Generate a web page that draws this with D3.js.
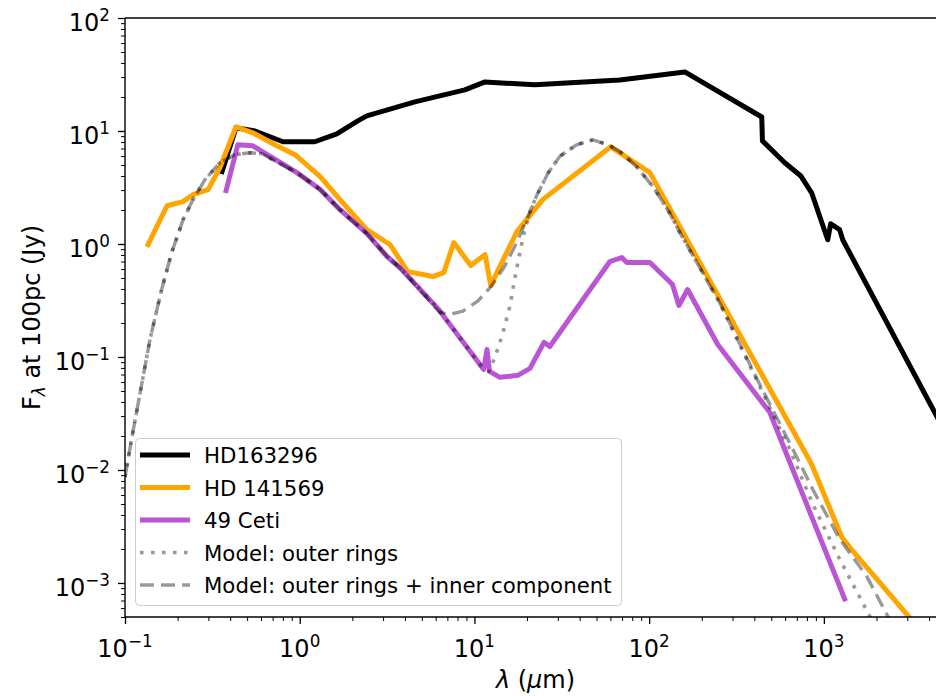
<!DOCTYPE html>
<html><head><meta charset="utf-8">
<script src="https://cdn.jsdelivr.net/npm/d3@7"></script>
<style>
body{margin:0;background:#fff}
svg{display:block}
text{font-family:"DejaVu Sans",sans-serif;fill:#000}
</style>
</head><body>
<svg id="c" width="936" height="696"></svg>
<script>
// ---------------- data (wavelength in micron, flux in Jy) ----------------
const hd163296_wl   = [0.359, 0.432, 0.555, 0.802, 1.22, 1.63, 2.15, 2.42, 4.56, 8.81, 11.5, 22.2, 67.9, 160, 441, 445, 597, 736, 851, 1052, 1094, 1230, 1282, 4365, 5000];
const hd163296_flux = [4.37, 10.7, 10.0, 8.03, 8.03, 9.44, 12.3, 13.6, 18.1, 23.1, 27.2, 25.6, 28.3, 33.3, 13.3, 8.18, 5.24, 4.02, 2.84, 1.09, 1.51, 1.34, 1.09, 0.0311, 0.021];

const hd141569_wl   = [0.1355, 0.174, 0.215, 0.245, 0.299, 0.349, 0.432, 0.539, 0.721, 0.94, 1.31, 1.70, 2.42, 3.28, 4.16, 5.78, 6.68, 7.62, 9.53, 11.5, 12.4, 17.5, 24.6, 60.3, 101, 851, 1265, 1462, 2979, 3532];
const hd141569_flux = [0.989, 2.18, 2.37, 2.73, 3.03, 4.73, 10.9, 9.64, 7.55, 6.17, 3.94, 2.47, 1.34, 0.99, 0.570, 0.515, 0.559, 1.03, 0.644, 0.805, 0.430, 1.29, 2.47, 7.24, 4.28, 0.01125, 2.55e-3, 1.92e-3, 5.3e-4, 3.93e-4];

const ceti49_wl   = [0.379, 0.442, 0.539, 0.964, 1.31, 1.70, 2.42, 3.16, 3.74, 6.18, 11.3, 11.8, 12.2, 14.0, 17.7, 20.8, 25.0, 27.0, 59.6, 69.7, 74.5, 101, 136, 148, 166, 247, 490, 1315];
const ceti49_flux = [2.97, 7.55, 7.40, 4.28, 3.03, 2.01, 1.24, 0.775, 0.619, 0.268, 0.0776, 0.1167, 0.0746, 0.0661, 0.0688, 0.0793, 0.1346, 0.124, 0.70, 0.759, 0.685, 0.685, 0.438, 0.286, 0.395, 0.129, 0.0324, 7.23e-4];

const modelOuter_wl   = [0.1, 0.109, 0.139, 0.162, 0.185, 0.215, 0.245, 0.287, 0.349, 0.425, 0.519, 0.608, 0.964, 1.31, 1.70, 2.42, 3.16, 3.74, 6.18, 11.3, 12.1, 13.1, 14.5, 16.0, 17.0, 18.2, 19.2, 20.8, 22.6, 26.4, 30.8, 38.4, 47.7, 58.2, 67.9, 84.5, 105, 131, 150, 253, 429, 637, 863, 1230, 1829, 2083];
const modelOuter_flux = [0.00863, 0.0187, 0.143, 0.395, 0.84, 1.64, 2.47, 3.71, 5.24, 6.17, 6.42, 6.29, 4.28, 3.03, 2.01, 1.24, 0.775, 0.619, 0.268, 0.0776, 0.0746, 0.099, 0.161, 0.286, 0.494, 0.84, 1.24, 1.93, 2.64, 4.25, 5.96, 7.55, 8.36, 7.55, 6.59, 4.85, 3.24, 1.88, 1.26, 0.303, 0.0550, 0.0153, 4.99e-3, 1.63e-3, 5.1e-4, 3.2e-4];

const modelFull_wl   = [0.1, 0.109, 0.139, 0.162, 0.185, 0.215, 0.245, 0.287, 0.349, 0.425, 0.519, 0.608, 0.964, 1.31, 1.70, 2.42, 3.16, 3.74, 6.34, 7.23, 8.59, 10.45, 12.5, 14.9, 17.4, 19.9, 22.6, 26.4, 30.8, 38.4, 47.7, 58.2, 67.9, 84.5, 105, 131, 150, 253, 429, 664, 863, 1230, 1757, 2317, 2716];
const modelFull_flux = [0.00863, 0.0187, 0.143, 0.395, 0.84, 1.64, 2.47, 3.71, 5.24, 6.17, 6.42, 6.29, 4.28, 3.03, 2.01, 1.24, 0.775, 0.619, 0.248, 0.238, 0.255, 0.312, 0.423, 0.635, 1.02, 1.64, 2.64, 4.25, 5.96, 7.55, 8.36, 7.55, 6.59, 4.85, 3.24, 1.88, 1.26, 0.303, 0.0573, 0.0153, 6.76e-3, 2.45e-3, 1.15e-3, 5.1e-4, 3.2e-4];

const xMajorExp = [-1, 0, 1, 2, 3];
const yMajorExp = [-3, -2, -1, 0, 1, 2];
const legendLabels = ["HD163296", "HD 141569", "49 Ceti", "Model: outer rings", "Model: outer rings + inner component"];

// ---------------- chart ----------------
const svg = d3.select("#c");
const L = 125, R = 946, T = 18, B = 617;
const x = d3.scaleLog().domain([0.1, 5000]).range([L, R]);
const y = d3.scaleLog().domain([5e-4, 100]).range([B, T]);

svg.append("defs").append("clipPath").attr("id", "clip")
  .append("rect").attr("x", L).attr("y", T).attr("width", R - L).attr("height", B - T);

const line = d3.line().x(d => x(d[0])).y(d => y(d[1]));
const zip = (a, b) => a.map((v, i) => [v, b[i]]);

const series = [
  {wl: hd163296_wl, fl: hd163296_flux, color: "#000000", w: 5, dash: null, op: 1},
  {wl: hd141569_wl, fl: hd141569_flux, color: "#FFA500", w: 5, dash: null, op: 1},
  {wl: ceti49_wl, fl: ceti49_flux, color: "#BA55D3", w: 5, dash: null, op: 1},
  {wl: modelOuter_wl, fl: modelOuter_flux, color: "#000000", w: 3.6, dash: "3.6,7.4", op: 0.4},
  {wl: modelFull_wl, fl: modelFull_flux, color: "#000000", w: 3.4, dash: "14,7", op: 0.4}
];

const g = svg.append("g").attr("clip-path", "url(#clip)");
series.forEach(s => {
  g.append("path").datum(zip(s.wl, s.fl))
    .attr("d", line).attr("fill", "none")
    .attr("stroke", s.color).attr("stroke-width", s.w)
    .attr("stroke-opacity", s.op)
    .attr("stroke-linejoin", "round").attr("stroke-linecap", s.dash ? "butt" : "square")
    .attr("stroke-dasharray", s.dash);
});

// minor tick values
const xMinor = [], yMinor = [];
for (let e = -1; e <= 3; e++) for (let m = 2; m <= 9; m++) { const v = m * Math.pow(10, e); if (v <= 5000) xMinor.push(v); }
for (let e = -4; e <= 1; e++) for (let m = 2; m <= 9; m++) { const v = m * Math.pow(10, e); if (v >= 5e-4 && v <= 100) yMinor.push(v); }

const xMaj = xMajorExp.map(e => Math.pow(10, e));
const yMaj = yMajorExp.map(e => Math.pow(10, e));

function styleAxis(sel, w) {
  sel.select(".domain").remove();
  sel.selectAll(".tick line").attr("stroke", "#000").attr("stroke-width", w);
}
svg.append("g").attr("transform", `translate(0,${B})`)
  .call(d3.axisBottom(x).tickValues(xMinor).tickSize(4).tickFormat(""))
  .call(s => styleAxis(s, 1));
svg.append("g").attr("transform", `translate(0,${B})`)
  .call(d3.axisBottom(x).tickValues(xMaj).tickSize(7).tickFormat(""))
  .call(s => styleAxis(s, 1.3));
svg.append("g").attr("transform", `translate(${L},0)`)
  .call(d3.axisLeft(y).tickValues(yMinor).tickSize(4).tickFormat(""))
  .call(s => styleAxis(s, 1));
svg.append("g").attr("transform", `translate(${L},0)`)
  .call(d3.axisLeft(y).tickValues(yMaj).tickSize(7).tickFormat(""))
  .call(s => styleAxis(s, 1.3));

// spines
svg.append("line").attr("x1", L).attr("x2", L).attr("y1", T).attr("y2", B).attr("stroke", "#000").attr("stroke-width", 1.4);
svg.append("line").attr("x1", L).attr("x2", R).attr("y1", B).attr("y2", B).attr("stroke", "#000").attr("stroke-width", 1.4);
svg.append("line").attr("x1", L).attr("x2", R).attr("y1", T).attr("y2", T).attr("stroke", "#000").attr("stroke-width", 1.4);

const FS = 24;
function powLabel(sel, e) {
  sel.append("tspan").text("10");
  sel.append("tspan").attr("font-size", FS * 0.7).attr("dy", -FS * 0.42)
    .text(e < 0 ? "\u2212" + (-e) : String(e));
}
xMajorExp.forEach(e => {
  const t = svg.append("text").attr("x", x(Math.pow(10, e))).attr("y", 657)
    .attr("text-anchor", "middle").attr("font-size", FS);
  powLabel(t, e);
});
yMajorExp.forEach(e => {
  const t = svg.append("text").attr("x", 110).attr("y", y(Math.pow(10, e)) + 13)
    .attr("text-anchor", "end").attr("font-size", FS);
  powLabel(t, e);
});

// axis labels
const xl = svg.append("text").attr("x", (L + R) / 2).attr("y", 688).attr("text-anchor", "middle").attr("font-size", FS);
xl.append("tspan").attr("font-style", "italic").text("\u03bb");
xl.append("tspan").text(" (");
xl.append("tspan").attr("font-style", "italic").text("\u03bc");
xl.append("tspan").text("m)");

const yl = svg.append("text").attr("transform", `translate(40,${(T + B) / 2}) rotate(-90)`)
  .attr("text-anchor", "middle").attr("font-size", FS);
yl.append("tspan").text("F");
yl.append("tspan").attr("font-style", "italic").attr("font-size", FS * 0.7).attr("dy", 5).text("\u03bb");
yl.append("tspan").attr("dy", -5).text(" at 100pc (Jy)");

// legend
const lg = svg.append("g");
lg.append("rect").attr("x", 135.5).attr("y", 438.5).attr("width", 486).attr("height", 167).attr("rx", 4)
  .attr("fill", "#fff").attr("fill-opacity", 0.8).attr("stroke", "#cccccc").attr("stroke-width", 1);
legendLabels.forEach((lab, i) => {
  const s = series[i];
  const yy = 455 + i * 32.5;
  lg.append("line").attr("x1", 140).attr("x2", 190).attr("y1", yy).attr("y2", yy)
    .attr("stroke", s.color).attr("stroke-width", s.w).attr("stroke-opacity", s.op)
    .attr("stroke-dasharray", s.dash);
  lg.append("text").attr("x", 204).attr("y", yy + 8).attr("font-size", 21.3).text(lab);
});
</script>
</body></html>
